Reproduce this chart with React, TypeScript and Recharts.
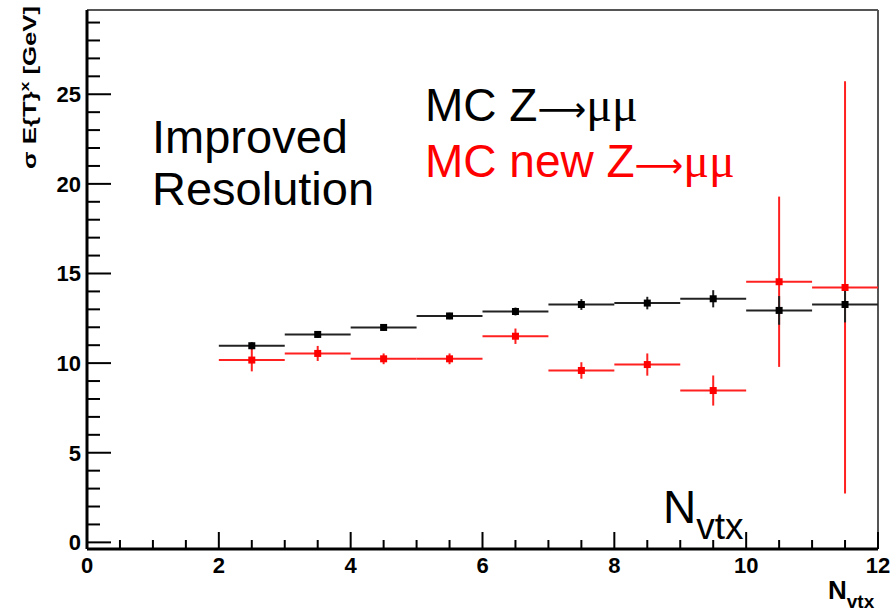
import React from 'react';
import { ScatterChart, Scatter, XAxis, YAxis, ErrorBar, ReferenceLine } from 'recharts';

// bin centres in N_vtx, each bin is one vertex wide
const binCenters = [2.5, 3.5, 4.5, 5.5, 6.5, 7.5, 8.5, 9.5, 10.5, 11.5];
const binHalfWidths = [0.5, 0.5, 0.5, 0.5, 0.5, 0.5, 0.5, 0.5, 0.5, 0.5];

// MC Z->mumu (black)
const mcValues = [10.97, 11.6, 11.99, 12.63, 12.88, 13.27, 13.35, 13.59, 12.94, 13.27];
const mcErrors = [0.2, 0.18, 0.18, 0.18, 0.22, 0.3, 0.35, 0.48, 0.8, 1.0];

// MC new Z->mumu (red)
const mcNewValues = [10.17, 10.54, 10.24, 10.24, 11.5, 9.59, 9.92, 8.47, 14.54, 14.22];
const mcNewErrors = [0.63, 0.42, 0.3, 0.3, 0.43, 0.46, 0.62, 0.84, 4.75, 11.5];

const xTicks = [0, 0.5, 1, 1.5, 2, 2.5, 3, 3.5, 4, 4.5, 5, 5.5, 6, 6.5, 7, 7.5, 8, 8.5, 9, 9.5, 10, 10.5, 11, 11.5, 12];
const yTicks = [0, 1, 2, 3, 4, 5, 6, 7, 8, 9, 10, 11, 12, 13, 14, 15, 16, 17, 18, 19, 20, 21, 22, 23, 24, 25, 26, 27, 28, 29];

const Y_MIN = -0.37;
const Y_MAX = 29.7;

const FONT = '"Liberation Sans", Arial, Helvetica, sans-serif';
const SERIF = '"Liberation Serif", "DejaVu Serif", serif';
const ARROW = '"DejaVu Sans", sans-serif';

const mcData = binCenters.map((x, i) => ({ x, y: mcValues[i], ex: binHalfWidths[i], ey: mcErrors[i] }));
const mcNewData = binCenters.map((x, i) => ({ x, y: mcNewValues[i], ex: binHalfWidths[i], ey: mcNewErrors[i] }));

const YTick = (props: any) => {
  const { x, y, payload } = props;
  const v = payload.value;
  const major = v % 5 === 0;
  return (
    <g>
      <line x1={x} y1={y} x2={x + (major ? 24 : 13)} y2={y} stroke="#000" strokeWidth={2} />
      {major && (
        <text x={x - 6} y={y + 8} textAnchor="end" fontFamily={FONT} fontWeight="bold" fontSize={22} fill="#000">
          {v}
        </text>
      )}
    </g>
  );
};

const XTick = (props: any) => {
  const { x, y, payload } = props;
  const v = payload.value;
  const major = v % 2 === 0;
  return (
    <g>
      <line x1={x} y1={y} x2={x} y2={y - (major ? 17 : 9)} stroke="#000" strokeWidth={2} />
      {major && (
        <text x={x} y={y + 24} textAnchor="middle" fontFamily={FONT} fontWeight="bold" fontSize={22} fill="#000">
          {v}
        </text>
      )}
    </g>
  );
};

const square = (color: string) => (p: any) => (
  <rect x={p.cx - 3.5} y={p.cy - 3.5} width={7} height={7} fill={color} />
);

export default function App() {
  return (
    <div style={{ position: 'absolute', left: 0, top: 0, width: 892, height: 612, background: '#fff' }}>
      <ScatterChart width={892} height={612} margin={{ top: 10, right: 14, bottom: 33, left: 27 }}>
        <XAxis
          type="number"
          dataKey="x"
          domain={[0, 12]}
          ticks={xTicks}
          interval={0}
          height={30}
          tickSize={0}
          tickMargin={0}
          tickLine={false}
          tick={<XTick />}
          axisLine={{ stroke: '#000', strokeWidth: 3 }}
        />
        <YAxis
          type="number"
          dataKey="y"
          domain={[Y_MIN, Y_MAX]}
          ticks={yTicks}
          interval={0}
          width={60}
          tickSize={0}
          tickMargin={0}
          tickLine={false}
          tick={<YTick />}
          axisLine={{ stroke: '#000', strokeWidth: 3 }}
        />
        <ReferenceLine y={Y_MAX} stroke="#555" strokeWidth={2} />
        <ReferenceLine x={12} stroke="#555" strokeWidth={2} />
        <Scatter data={mcNewData} shape={square('#ff0000')} isAnimationActive={false}>
          <ErrorBar dataKey="ex" direction="x" width={0} stroke="#ff2020" strokeWidth={2} />
          <ErrorBar dataKey="ey" direction="y" width={0} stroke="#ff2020" strokeWidth={2} />
        </Scatter>
        <Scatter data={mcData} shape={square('#000')} isAnimationActive={false}>
          <ErrorBar dataKey="ex" direction="x" width={0} stroke="#222" strokeWidth={2} />
          <ErrorBar dataKey="ey" direction="y" width={0} stroke="#222" strokeWidth={2} />
        </Scatter>
      </ScatterChart>
      <svg width={892} height={612} style={{ position: 'absolute', left: 0, top: 0, pointerEvents: 'none' }}>
        <text
          transform="translate(36,6) rotate(-90)"
          textAnchor="end"
          fontFamily={FONT}
          fontWeight="bold"
          fontSize={18}
          textLength={163}
          lengthAdjust="spacingAndGlyphs"
        >
          σ E{'{'}T{'}'}<tspan dy={-7} fontSize={12}>x</tspan><tspan dy={7}> [GeV]</tspan>
        </text>
        <text x={152} y={153} fontFamily={FONT} fontSize={47} fill="#000">Improved</text>
        <text x={152} y={205} fontFamily={FONT} fontSize={47} fill="#000">Resolution</text>
        <text x={425} y={121} fontFamily={FONT} fontSize={46} fill="#000">
          MC Z<tspan fontFamily={ARROW} fontSize={34}>⟶</tspan><tspan fontFamily={SERIF} fontSize={48}>μμ</tspan>
        </text>
        <text x={425} y={177} fontFamily={FONT} fontSize={46} fill="#ff0000">
          MC new Z<tspan fontFamily={ARROW} fontSize={34}>⟶</tspan><tspan fontFamily={SERIF} fontSize={48}>μμ</tspan>
        </text>
        <text x={663} y={523} fontFamily={FONT} fontSize={46} fill="#000">
          N<tspan dy={16} fontSize={37}>vtx</tspan>
        </text>
        <text x={828} y={599} fontFamily={FONT} fontWeight="bold" fontSize={26} fill="#000">
          N<tspan dy={9} fontSize={19}>vtx</tspan>
        </text>
      </svg>
    </div>
  );
}
